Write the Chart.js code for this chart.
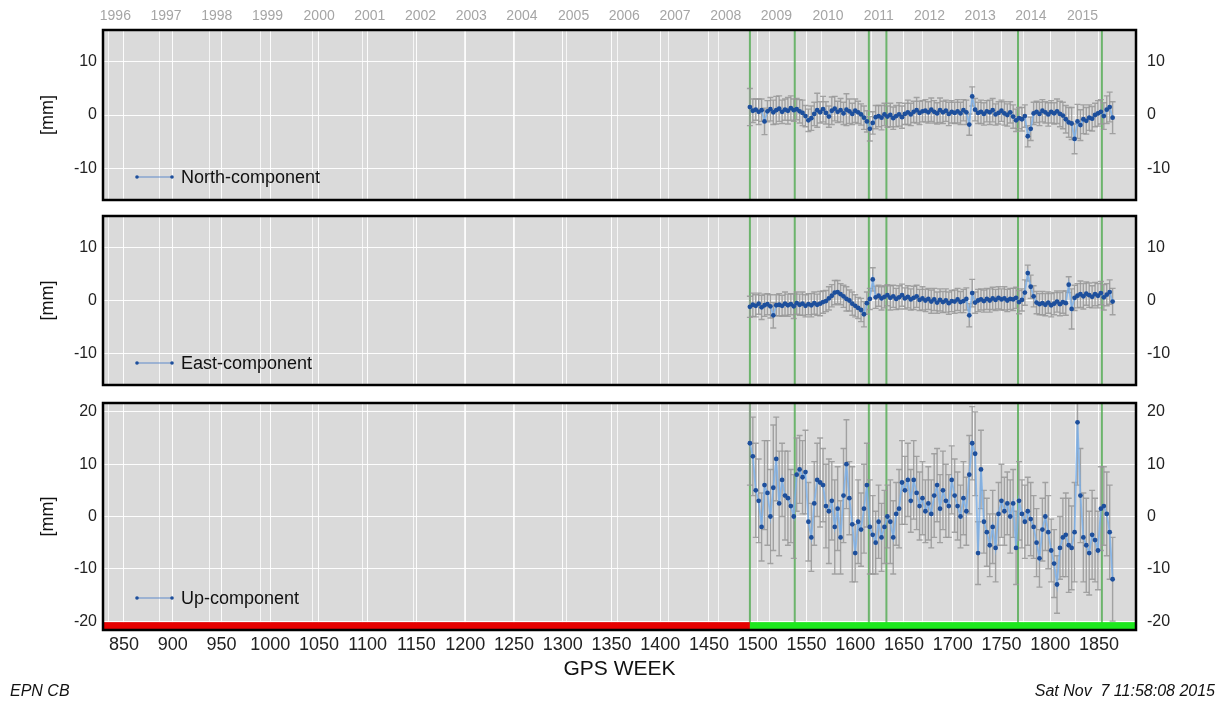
<!DOCTYPE html>
<html>
<head>
<meta charset="utf-8">
<script src="https://cdn.jsdelivr.net/npm/chart.js@4.4.0/dist/chart.umd.min.js"></script>
<style>
  html, body { margin: 0; padding: 0; background: #fff; width: 1228px; height: 705px; overflow: hidden;
    font-family: "Liberation Sans", Arial, sans-serif; }
  .panel { position: absolute; left: 0; width: 1228px; }
  .foot { position: absolute; top: 682px; font-style: italic; font-size: 16px; color: #111; white-space: pre; }
</style>
</head>
<body>
<div class="panel" style="top:0"><canvas id="cNorth" width="1228" height="210"></canvas></div>
<div class="panel" style="top:210px"><canvas id="cEast" width="1228" height="185"></canvas></div>
<div class="panel" style="top:395px"><canvas id="cUp" width="1228" height="290"></canvas></div>
<div class="foot" style="left:10px">EPN CB</div>
<div class="foot" style="right:13px">Sat Nov  7 11:58:08 2015</div>
<script>
// GPS weeks of the solutions (every 3rd week shown)
const weeks = [
  1492,1495,1498,1501,1504,1507,1510,1513,1516,1519,
  1522,1525,1528,1531,1534,1537,1540,1543,1546,1549,
  1552,1555,1558,1561,1564,1567,1570,1573,1576,1579,
  1582,1585,1588,1591,1594,1597,1600,1603,1606,1609,
  1612,1615,1618,1621,1624,1627,1630,1633,1636,1639,
  1642,1645,1648,1651,1654,1657,1660,1663,1666,1669,
  1672,1675,1678,1681,1684,1687,1690,1693,1696,1699,
  1702,1705,1708,1711,1714,1717,1720,1723,1726,1729,
  1732,1735,1738,1741,1744,1747,1750,1753,1756,1759,
  1762,1765,1768,1771,1774,1777,1780,1783,1786,1789,
  1792,1795,1798,1801,1804,1807,1810,1813,1816,1819,
  1822,1825,1828,1831,1834,1837,1840,1843,1846,1849,
  1852,1855,1858,1861,1864
];

const northVals = [
  1.5, 0.8, 1.0, 0.6, 0.9, -1.2, 0.7, 1.1, 0.5, 0.9,
  1.2, 0.6, 1.0, 0.8, 1.3, 0.9, 1.1, 0.7, 0.4, -0.2,
  -1.0, -0.6, 0.2, 0.9, 0.5, 1.1, 0.4, -0.3, 0.8, 1.2,
  0.6, 0.9, 0.3, 1.0, 0.7, 0.2, 0.8, 0.5, 0.1, -0.5,
  -1.2, -2.6, -1.5, -0.4, -0.2, -0.5, 0.1, -0.3, 0.0, -0.6,
  -0.2, 0.1, -0.4, 0.2, 0.5, 0.1, 0.6, 0.9, 0.4, 0.7,
  0.8, 0.5, 1.0, 0.6, 0.3, 0.9, 0.5, 0.8, 0.2, 0.6,
  0.4, 0.7, 0.3, 0.9, 0.5, -1.8, 3.5, 1.0, 0.4, 0.6,
  0.2, 0.7, 0.5, 0.9, 0.1, 0.4, 0.8, 0.3, 0.0, 0.5,
  -0.3, -1.0, -0.6, -0.8, -0.2, -4.0, -2.6, 0.3, 0.6, 0.2,
  0.8, 0.5, 0.1, 0.6, 0.3, 0.7, 0.2, -0.1, -0.8, -1.4,
  -1.6, -4.5, -1.2, -1.9, -0.8, -1.1, -0.5, -0.7, 0.0, 0.3,
  0.6, -0.2, 1.0, 1.5, -0.5
];
const northErr = [
  3.5, 2.2, 2.0, 2.4, 2.1, 2.5, 2.0, 2.2, 2.3, 2.6,
  2.4, 2.2, 2.0, 2.5, 2.3, 2.1, 2.0, 2.2, 2.4, 2.0,
  2.1, 2.3, 2.2, 3.2, 2.0, 2.4, 2.1, 2.0, 2.6, 2.3,
  2.0, 2.2, 2.1, 3.0, 2.3, 2.0, 2.2, 2.1, 2.0, 2.2,
  2.0, 2.3, 2.1, 2.2, 2.0, 2.3, 2.1, 2.0, 2.2, 2.1,
  2.0, 2.2, 2.1, 2.0, 2.3, 2.1, 2.0, 2.4, 2.2, 2.0,
  2.1, 2.0, 2.2, 2.1, 2.0, 2.3, 2.1, 2.0, 2.2, 2.1,
  2.0, 2.2, 2.1, 2.0, 2.3, 2.0, 1.8, 2.1, 2.0, 2.2,
  2.1, 2.0, 2.3, 2.2, 2.0, 2.1, 2.0, 2.2, 2.1, 2.0,
  2.2, 2.1, 2.0, 2.2, 2.1, 2.0, 2.2, 2.1, 2.0, 2.2,
  2.1, 2.0, 2.2, 2.1, 2.0, 2.3, 2.4, 2.5, 2.6, 2.8,
  3.0, 2.8, 3.2, 2.9, 2.7, 2.5, 2.4, 2.3, 2.2, 2.4,
  2.3, 2.5, 2.6, 2.8, 3.0
];

const eastVals = [
  -1.2, -0.8, -1.0, -0.6, -1.3, -0.9, -0.7, -1.1, -2.8, -0.9,
  -0.8, -1.0, -0.6, -0.9, -0.7, -1.1, -0.5, -0.8, -0.6, -1.0,
  -0.7, -0.9, -0.5, -0.8, -0.6, -0.3, -0.1, 0.4, 0.9, 1.5,
  1.6, 1.2, 0.8, 0.3, 0.0, -0.6, -1.0, -1.4, -1.8, -2.6,
  -0.5, 0.3, 4.0, 0.6, 0.9, 0.4, 0.7, 1.0, 0.5, 0.8,
  0.3, 0.6, 1.0, 0.4, 0.7, 0.2, 0.5, 0.8, 0.1, 0.4,
  0.0, 0.3, -0.2, 0.2, -0.4, 0.1, -0.3, 0.0, -0.5, -0.1,
  -0.2, 0.2, -0.3, -0.1, 0.3, -2.8, 1.4, -0.4, 0.0, 0.2,
  -0.1, 0.3, 0.0, 0.4, 0.1, 0.5, 0.2, 0.4, 0.0, 0.3,
  0.2, 0.5, -0.3, 0.1, 1.5, 5.2, 2.6, 0.8, -0.4, -0.7,
  -0.5, -0.8, -0.4, -0.9, -0.6, -0.2, -0.7, -0.3, -0.5, 3.0,
  -1.6, 0.5, 0.9, 1.2, 0.8, 1.3, 1.0, 0.7, 1.2, 0.9,
  1.4, 0.6, 1.1, 1.6, -0.2
];
const eastErr = [
  2.0, 2.2, 2.1, 2.0, 2.3, 2.1, 2.0, 2.2, 2.4, 2.0,
  2.1, 2.0, 2.2, 2.1, 2.0, 2.3, 2.1, 2.0, 2.2, 2.1,
  2.0, 2.2, 2.1, 2.0, 2.3, 2.1, 2.0, 2.2, 2.1, 2.3,
  2.2, 2.0, 2.1, 2.3, 2.0, 2.2, 2.1, 2.0, 2.2, 2.4,
  2.1, 2.0, 2.2, 2.1, 2.0, 2.2, 2.1, 2.0, 2.3, 2.1,
  2.0, 2.2, 2.1, 2.0, 2.1, 2.0, 2.2, 2.1, 2.0, 2.2,
  2.1, 2.0, 2.2, 2.1, 2.0, 2.1, 2.0, 2.2, 2.1, 2.0,
  2.2, 2.1, 2.0, 2.2, 2.1, 2.2, 2.6, 2.0, 2.1, 2.0,
  2.1, 2.0, 2.2, 2.1, 2.0, 2.1, 2.0, 2.2, 2.1, 2.0,
  2.1, 2.0, 2.2, 2.1, 2.4, 1.5, 2.2, 2.0, 2.1, 2.0,
  2.2, 2.1, 2.0, 2.2, 2.1, 2.0, 2.2, 2.1, 2.3, 1.5,
  3.8, 2.4, 2.3, 2.5, 2.4, 2.2, 2.3, 2.1, 2.2, 2.3,
  2.2, 2.4, 2.1, 2.3, 2.5
];

const upVals = [
  14.0, 11.5, 5.0, 3.0, -2.0, 6.0, 4.5, 0.0, 5.5, 11.0,
  2.5, 7.0, 4.0, 3.5, 2.0, 0.0, 8.0, 9.0, 7.5, 8.5,
  -1.0, -4.0, 2.5, 7.0, 6.5, 6.0, 2.0, 1.0, 3.0, -2.0,
  1.5, -4.0, 4.0, 10.0, 3.5, -1.5, -7.0, -1.0, -2.5, 1.5,
  6.0, -2.0, -3.5, -5.0, -1.0, -4.0, -2.0, 0.0, -1.0, -4.0,
  0.5, 1.5, 6.5, 5.0, 7.0, 3.0, 7.0, 4.5, 2.0, 3.5,
  1.0, 2.5, 0.5, 4.0, 6.0, 1.5, 5.0, 3.0, 2.0, 7.0,
  4.0, 2.0, 0.0, 3.5, 1.0, 8.0, 14.0, 12.0, -7.0, 9.0,
  -1.0, -3.0, -5.5, -2.0, -6.0, 0.5, 3.0, 1.0, 2.5, 0.0,
  2.5, -6.0, 3.0, 0.5, -1.0, 1.0, -0.5, -2.0, -5.0, -8.0,
  -2.5, 0.0, -3.0, -6.5, -9.0, -13.0, -6.0, -4.0, -3.5, -5.5,
  -6.0, -3.0, 18.0, 4.0, -4.0, -5.5, -7.0, -3.5, -4.5, -6.5,
  1.5, 2.0, 0.5, -3.0, -12.0
];
const upErr = [
  8.0, 7.5, 9.0, 8.0, 6.5, 8.5, 10.0, 9.0, 12.0, 8.0,
  10.0, 7.0, 8.5, 9.0, 7.0, 8.0, 7.0, 6.5, 7.0, 8.0,
  7.5, 6.5, 8.0, 7.0, 8.5, 7.0, 8.0, 10.0, 7.5, 9.0,
  8.0, 7.0, 9.0, 8.5, 7.0, 11.0, 5.5, 8.0, 7.0, 8.5,
  8.0, 9.0, 7.5, 6.0, 7.0, 6.5, 7.0, 6.0, 8.0, 7.0,
  6.0, 7.5, 8.0, 6.5, 7.0, 6.0, 7.5, 7.0, 6.5, 7.0,
  6.0, 7.0, 6.5, 8.0, 7.0, 6.5, 7.5, 7.0, 6.0, 6.5,
  7.0, 6.5, 6.0, 7.0, 6.5, 7.5, 7.0, 8.0, 6.0, 7.5,
  6.0, 6.5, 6.0, 7.0, 6.5, 6.0, 7.0, 6.5, 6.0, 7.0,
  6.5, 7.0, 7.5, 6.5, 7.0, 6.5, 7.0, 6.0, 6.5, 5.5,
  6.0, 6.5, 7.0, 6.0, 6.5, 5.5, 6.0, 7.5, 8.0, 9.0,
  8.0, 9.5, 12.0, 9.0, 8.5, 9.0, 8.0, 8.5, 8.0, 7.5,
  8.0, 7.5, 8.0, 9.0, 8.0
];

// axis ticks
const weekTicks = [850,900,950,1000,1050,1100,1150,1200,1250,1300,1350,1400,1450,1500,1550,1600,1650,1700,1750,1800,1850];
const yearLabels = ['1996','1997','1998','1999','2000','2001','2002','2003','2004','2005','2006','2007','2008','2009','2010','2011','2012','2013','2014','2015'];
const yearStartWeeks = [834,886,938,990,1043,1095,1147,1199,1251,1304,1356,1408,1460,1512,1565,1617,1669,1721,1773,1826];
const neTicks = [-10, 0, 10];
const upTicks = [-20, -10, 0, 10, 20];

// station events (green lines) and data status bar
const eventWeeks = [1492, 1538, 1614, 1632, 1767, 1853];
const statusFrom = [828.5, 1492];
const statusTo = [1492, 1888];
const statusOk = [false, true];

const WEEK_MIN = 828.5, WEEK_MAX = 1888;
const FONT = '"Liberation Sans", Arial, Helvetica, sans-serif';

function panelPlugin(cfg) {
  return {
    id: 'panel_' + cfg.name,
    beforeDraw(chart) {
      const {ctx, chartArea: a} = chart;
      ctx.save();
      ctx.fillStyle = '#dadada';
      ctx.fillRect(a.left, a.top, a.width, a.height);
      ctx.restore();
    },
    beforeDatasetsDraw(chart) {
      const {ctx, chartArea: a} = chart;
      const x = chart.scales.x, y = chart.scales.y;
      ctx.save();
      ctx.beginPath();
      ctx.rect(a.left, a.top, a.width, a.height);
      ctx.clip();
      ctx.strokeStyle = 'rgba(80,170,80,0.8)';
      ctx.lineWidth = 2;
      eventWeeks.forEach(w => {
        const px = x.getPixelForValue(w);
        ctx.beginPath();
        ctx.moveTo(px, a.top);
        ctx.lineTo(px, a.bottom);
        ctx.stroke();
      });
      ctx.strokeStyle = 'rgba(150,150,150,0.85)';
      ctx.lineWidth = 1.4;
      weeks.forEach((w, i) => {
        const px = x.getPixelForValue(w);
        const y1 = y.getPixelForValue(cfg.vals[i] + cfg.errs[i]);
        const y2 = y.getPixelForValue(cfg.vals[i] - cfg.errs[i]);
        ctx.beginPath();
        ctx.moveTo(px, y1); ctx.lineTo(px, y2);
        ctx.moveTo(px - 3, y1); ctx.lineTo(px + 3, y1);
        ctx.moveTo(px - 3, y2); ctx.lineTo(px + 3, y2);
        ctx.stroke();
      });
      ctx.restore();
    },
    afterDatasetsDraw(chart) {
      const {ctx, chartArea: a} = chart;
      const x = chart.scales.x, y = chart.scales.y;
      ctx.save();
      if (cfg.status) {
        const top = y.getPixelForValue(-20.2);
        statusFrom.forEach((f, i) => {
          const x1 = x.getPixelForValue(f), x2 = x.getPixelForValue(statusTo[i]);
          ctx.fillStyle = statusOk[i] ? '#1ee81e' : '#e60000';
          ctx.fillRect(x1, top, x2 - x1, a.bottom - top);
        });
      }
      // legend
      const lx = a.left + 34, ly = a.bottom - cfg.legendGap;
      ctx.strokeStyle = 'rgba(80,130,200,0.9)';
      ctx.lineWidth = 1;
      ctx.beginPath(); ctx.moveTo(lx, ly); ctx.lineTo(lx + 35, ly); ctx.stroke();
      ctx.fillStyle = '#1d4f9c';
      [lx, lx + 35].forEach(px => { ctx.beginPath(); ctx.arc(px, ly, 1.8, 0, Math.PI * 2); ctx.fill(); });
      ctx.fillStyle = '#111';
      ctx.font = '18px ' + FONT;
      ctx.textBaseline = 'middle';
      ctx.textAlign = 'left';
      ctx.fillText(cfg.label, lx + 44, ly + 1);
      // frame
      ctx.strokeStyle = '#000';
      ctx.lineWidth = 2.5;
      ctx.strokeRect(a.left, a.top, a.width, a.height);
      ctx.restore();
    }
  };
}

function noEdgePad(s) {
  s.paddingTop = 0; s.paddingBottom = 0; s.paddingLeft = 0; s.paddingRight = 0;
}

function makePanel(canvasId, cfg) {
  const tickFont = {family: FONT, size: 16};
  return new Chart(document.getElementById(canvasId), {
    type: 'line',
    data: {
      datasets: [{
        label: cfg.label,
        data: weeks.map((w, i) => ({x: w, y: cfg.vals[i]})),
        borderColor: 'rgba(120,175,235,0.8)',
        borderWidth: 1.8,
        pointRadius: 2.4,
        pointBorderWidth: 0,
        pointBackgroundColor: '#1d4f9c',
        tension: 0
      }]
    },
    options: {
      responsive: false,
      animation: false,
      layout: {padding: {top: cfg.padTop, bottom: cfg.padBottom, left: 0, right: 0}},
      plugins: {legend: {display: false}, tooltip: {enabled: false}},
      scales: {
        x: {
          type: 'linear', position: 'bottom', min: WEEK_MIN, max: WEEK_MAX,
          afterBuildTicks: s => { s.ticks = weekTicks.map(v => ({value: v})); },
          afterFit: s => { s.height = cfg.showWeeks ? 55 : 0; noEdgePad(s); },
          grid: {color: 'rgba(255,255,255,0.9)', lineWidth: 1, drawTicks: false},
          border: {display: false},
          ticks: {display: cfg.showWeeks, autoSkip: false, maxRotation: 0, padding: 4,
            color: '#222', font: {family: FONT, size: 18}, callback: v => String(v)},
          title: {display: cfg.showWeeks, text: 'GPS WEEK', color: '#111',
            font: {family: FONT, size: 21}, padding: {top: 0, bottom: 3}}
        },
        xt: {
          type: 'linear', position: 'top', min: WEEK_MIN, max: WEEK_MAX,
          afterBuildTicks: s => { s.ticks = yearStartWeeks.map(v => ({value: v})); },
          afterFit: s => { s.height = cfg.showYears ? 30 : 0; noEdgePad(s); },
          grid: {color: 'rgba(255,255,255,0.75)', lineWidth: 1, drawTicks: false},
          border: {display: false},
          ticks: {display: cfg.showYears, autoSkip: false, maxRotation: 0, padding: 5, labelOffset: 7,
            color: '#a5a5a5', font: {family: FONT, size: 14},
            callback: (v, i) => yearLabels[i]}
        },
        y: {
          position: 'left', min: cfg.yMin, max: cfg.yMax,
          afterBuildTicks: s => { s.ticks = cfg.yTicks.map(v => ({value: v})); },
          afterFit: s => { s.width = 103; noEdgePad(s); },
          grid: {color: 'rgba(255,255,255,0.95)', lineWidth: 1, drawTicks: false},
          border: {display: false},
          ticks: {padding: 6, color: '#222', font: tickFont},
          title: {display: true, text: '[mm]', color: '#111', font: {family: FONT, size: 18},
            padding: {top: 37, bottom: 0}}
        },
        y2: {
          position: 'right', min: cfg.yMin, max: cfg.yMax,
          afterBuildTicks: s => { s.ticks = cfg.yTicks.map(v => ({value: v})); },
          afterFit: s => { s.width = 92; noEdgePad(s); },
          grid: {display: false, drawTicks: false},
          border: {display: false},
          ticks: {padding: 11, color: '#222', font: tickFont}
        }
      }
    },
    plugins: [panelPlugin(cfg)]
  });
}

makePanel('cNorth', {name: 'n', label: 'North-component', vals: northVals, errs: northErr,
  yMin: -16, yMax: 16, yTicks: neTicks, showYears: true, showWeeks: false,
  padTop: 0, padBottom: 10, legendGap: 23, status: false});
makePanel('cEast', {name: 'e', label: 'East-component', vals: eastVals, errs: eastErr,
  yMin: -16, yMax: 16, yTicks: neTicks, showYears: false, showWeeks: false,
  padTop: 6, padBottom: 10, legendGap: 22, status: false});
makePanel('cUp', {name: 'u', label: 'Up-component', vals: upVals, errs: upErr,
  yMin: -21.7, yMax: 21.7, yTicks: upTicks, showYears: false, showWeeks: true,
  padTop: 8, padBottom: 0, legendGap: 32, status: true});
</script>
</body>
</html>
